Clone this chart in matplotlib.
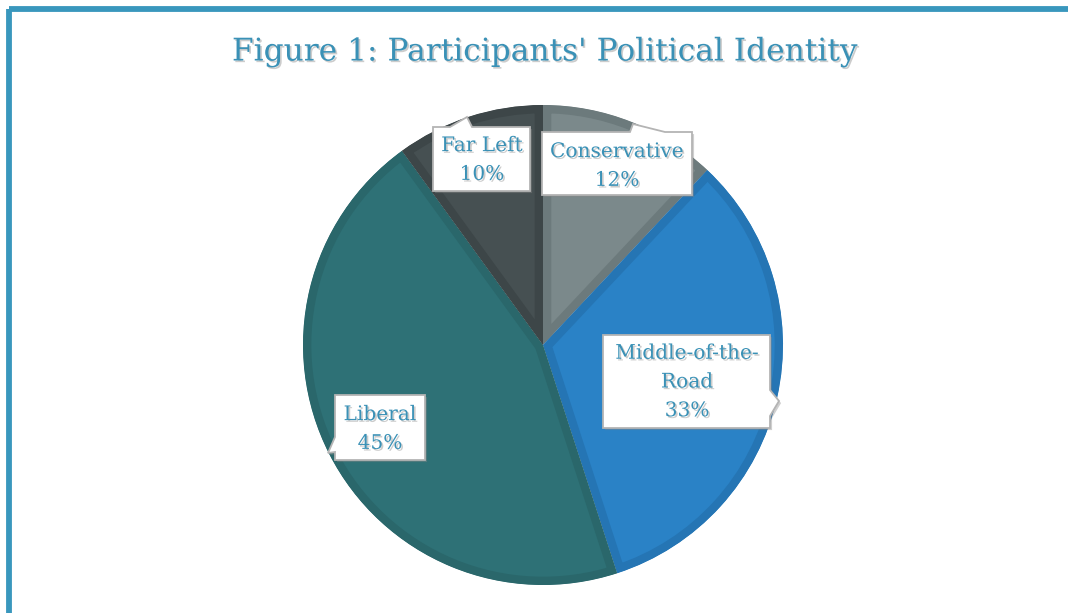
import matplotlib.pyplot as plt
import matplotlib.patheffects as pe
from matplotlib.patches import Polygon, Rectangle

# political identity breakdown (percent of participants)
categories = ['Conservative', 'Middle-of-the-\nRoad', 'Liberal', 'Far Left']
shares = [12, 33, 45, 10]
face_colors = ['#7b898b', '#2a82c6', '#2e7176', '#465052']
rim_colors = ['#6c7a7c', '#2575b4', '#2a676b', '#3d4648']

W, H = 1068, 613
fig = plt.figure(figsize=(W / 100, H / 100), dpi=100)
fig.patch.set_facecolor('white')

# pie axes: centre (543, 345), radius 240 px
cx, cy, r = 543, 345, 240
ax = fig.add_axes([(cx - r) / W, (H - cy - r) / H, 2 * r / W, 2 * r / H])
wedges, _ = ax.pie(shares, colors=face_colors, startangle=90, counterclock=False,
                   radius=1.0, wedgeprops=dict(linewidth=0))
ax.set_xlim(-1, 1)
ax.set_ylim(-1, 1)
ax.axis('off')
# darker rim on the inside of every slice: thick edge clipped to the slice itself
for w, rc in zip(wedges, rim_colors):
    w.set_edgecolor(rc)
    w.set_linewidth(12)
    w.set_clip_on(True)
    w.set_clip_box(None)
    w.set_clip_path(w.get_path(), w.get_transform())

# overlay in pixel coordinates for the frame, title and callouts
ov = fig.add_axes([0, 0, 1, 1], zorder=5)
ov.set_xlim(0, W)
ov.set_ylim(H, 0)
ov.axis('off')
ov.patch.set_alpha(0)

ov.add_patch(Rectangle((9, 9), W + 40, H + 40, fill=False, edgecolor='#3997bd',
                       linewidth=4.2))

shadow = [pe.withSimplePatchShadow(offset=(1.2, -1.2), shadow_rgbFace='#9a9a9a', alpha=0.5)]
txt_color = '#3a91b6'
ov.text(544, 52, "Figure 1: Participants' Political Identity", ha='center', va='center',
        fontsize=22.5, family='DejaVu Serif', color=txt_color, path_effects=shadow)

# callout outlines (box with a pointer) and label centres
callouts = [
    [(542, 132), (630, 132), (633, 124), (665, 132), (692, 132), (692, 195), (542, 195)],
    [(603, 335), (770, 335), (770, 390), (779, 401), (770, 416), (770, 428), (603, 428)],
    [(335, 395), (425, 395), (425, 460), (335, 460), (335, 452), (328, 453), (335, 437)],
    [(433, 127), (450, 127), (467, 117), (472, 127), (530, 127), (530, 191), (433, 191)],
]
label_pos = [(617, 166), (687, 382), (380, 429), (482, 160)]

for pts, (lx, ly), name, val in zip(callouts, label_pos, categories, shares):
    ov.add_patch(Polygon(pts, closed=True, facecolor='white', edgecolor='#b4b4b4',
                         linewidth=1.3, path_effects=[pe.withSimplePatchShadow(
                             offset=(1.5, -1.5), shadow_rgbFace='#888888', alpha=0.4)]))
    ov.text(lx, ly, f'{name}\n{val}%', ha='center', va='center', fontsize=14.5,
            family='DejaVu Serif', color=txt_color, linespacing=1.65,
            path_effects=shadow)

fig.savefig('out.png', dpi=100)
